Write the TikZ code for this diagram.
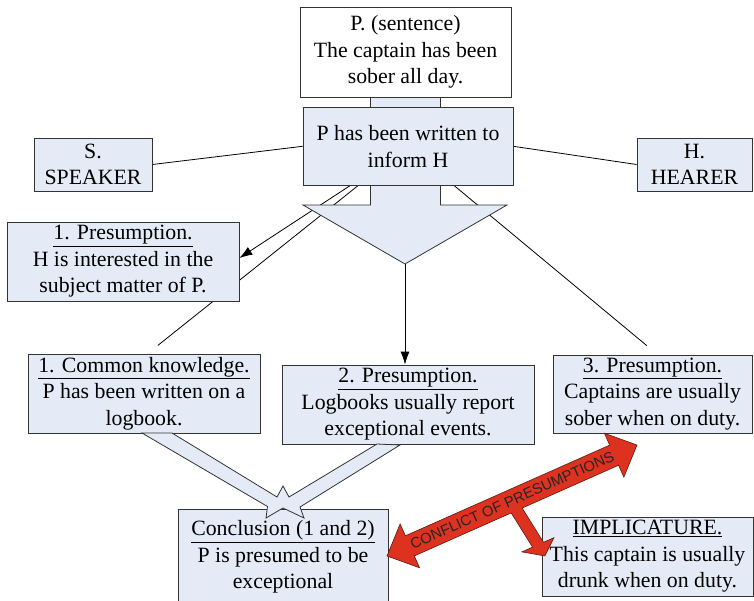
\documentclass[tikz,border=0pt]{standalone}
\usepackage{fontspec}
\setmainfont{Liberation Serif}
\newfontfamily\labelsans{Liberation Sans}
\usetikzlibrary{arrows.meta,calc}
\definecolor{boxblue}{RGB}{228,235,247}
\definecolor{conflictred}{RGB}{222,50,33}
\definecolor{conflictedge}{RGB}{95,25,15}
\newcommand\boxfont{\fontsize{21.8}{26.5}\selectfont}
\pgfdeclarelayer{back}
\pgfsetlayers{back,main}

\begin{document}
\begin{tikzpicture}[x=1pt,y=-1pt,
  box/.style={draw=black!80, line width=0.8pt, fill=boxblue, inner sep=0pt,
              align=center, font=\boxfont},
  link/.style={draw=black, line width=0.8pt},
  tip/.style={-{Latex[length=13pt,width=9pt]}},
  blockshape/.style={draw=black!80, line width=0.8pt, fill=boxblue, line join=miter},
  conflict/.style={draw=conflictedge, line width=0.6pt, fill=conflictred, line join=miter}]

\useasboundingbox (0,0) rectangle (754,600);
\clip (0,0) rectangle (754,600);

% --- boxes ---
\node[box, fill=white, minimum width=211pt, minimum height=90pt] (sent) at (405.5,52)
  {P. (sentence)\\The captain has been\\sober all day.};
\node[box, minimum width=210pt, minimum height=78.5pt] (inf) at (408,146.3)
  {P has been written to\\inform H};
\node[box, minimum width=118pt, minimum height=53pt] (spk) at (93,164.5) {S.\\SPEAKER};
\node[box, minimum width=115pt, minimum height=53pt] (hrr) at (694.5,164.5) {H.\\HEARER};
\node[box, minimum width=232pt, minimum height=79pt] (pr1) at (123,261.5)
  {\underline{1. Presumption.}\\H is interested in the\\subject matter of P.};
\node[box, minimum width=232pt, minimum height=79pt] (ckn) at (144,393.5)
  {\underline{1. Common knowledge.}\\P has been written on a\\logbook.};
\node[box, minimum width=252pt, minimum height=79pt] (pr2) at (408,404.5)
  {\underline{2. Presumption.}\\Logbooks usually report\\exceptional events.};
\node[box, minimum width=199pt, minimum height=78pt] (pr3) at (652.5,394)
  {\underline{3. Presumption.}\\Captains are usually\\sober when on duty.};
\node[box, minimum width=210pt, minimum height=96pt] (con) at (283,557)
  {\underline{Conclusion (1 and 2)}\\P is presumed to be\\exceptional};
\node[box, minimum width=211pt, minimum height=79pt] (imp) at (647.5,556.5)
  {\underline{IMPLICATURE.}\\This captain is usually\\drunk when on duty.};

% tip of the wide arrow below the sentence
\coordinate (tipc) at (405,264);

% --- connectors behind the boxes ---
\begin{pgfonlayer}{back}
  \draw[link] (spk.east) -- (inf.west);
  \draw[link] (inf.east) -- (hrr.west);
  \draw[link, tip] ([xshift=47pt]inf.south west) -- ([yshift=3.5pt]pr1.east);
  \draw[link, shorten >=13pt] ([xshift=55pt]inf.south west) -- ([xshift=120pt]ckn.north west);
  \draw[link, shorten >=14pt] ([xshift=152pt]inf.south west) -- ([xshift=105pt]pr3.north west);
  % wide arrow from the sentence through the inform box
  \draw[blockshape] (370.5,97) -- (370.5,205) -- (303,205) -- (tipc) -- (507,205)
    -- (440.5,205) -- (440.5,97) -- cycle;
\end{pgfonlayer}

\draw[link, tip] (tipc) -- (tipc |- pr2.north);

% converging strips into the conclusion
\draw[blockshape] (142,433) -- (267.5,506.5) -- (266,518) -- (283,508) -- (304,518)
  -- (300,507) -- (400,445) -- (377,444) -- (289,497) -- (283,486) -- (277,497)
  -- (172,433) -- cycle;

% conflict arrow with its branch to the implicature
\begin{scope}[shift={(387,556)}, rotate=23.94]
  \draw[conflict] (0,0) -- (25,-24) -- (25,-11) -- (248.5,-11) -- (248.5,-24)
    -- (273.5,0) -- (248.5,24) -- (248.5,11) -- (143,11) -- (148.6,51) -- (160,51)
    -- (144.3,64) -- (125,51) -- (136.6,51) -- (131,11) -- (25,11) -- (25,24) -- cycle;
  \node[rotate=23.94, inner sep=0pt, text=black!85,
        font=\labelsans\fontsize{14.8}{16}\selectfont] (cft) at (137,0)
    {CONFLICT OF PRESUMPTIONS};
\end{scope}
\end{tikzpicture}
\end{document}
